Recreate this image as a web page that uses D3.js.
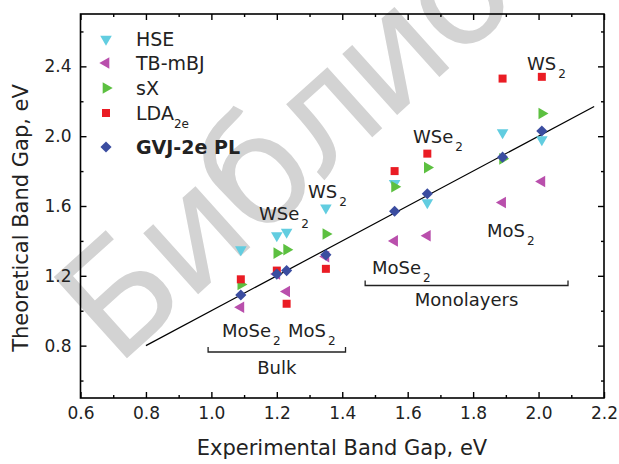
<!DOCTYPE html>
<html>
<head>
<meta charset="utf-8">
<script src="https://cdn.jsdelivr.net/npm/d3@7"></script>
<style>
  body { margin: 0; background: #fff; }
  text { font-family: "DejaVu Sans", Verdana, sans-serif; }
</style>
</head>
<body>
<svg id="chart" width="619" height="464"></svg>
<script>
// experimental gaps: bulk MoSe2, WSe2, MoS2, WS2 then monolayers MoSe2, WSe2, MoS2, WS2
const expGap = [1.09, 1.2, 1.23, 1.35, 1.56, 1.66, 1.89, 2.01];
const hse = [1.35, 1.43, 1.45, 1.59, 1.73, 1.62, 2.02, 1.98];
const tbmbj = [1.02, 1.21, 1.11, 1.31, 1.4, 1.43, 1.62, 1.74];
const sx = [1.15, 1.33, 1.35, 1.44, 1.71, 1.82, 1.87, 2.13];
const lda = [1.18, 1.23, 1.04, 1.24, 1.8, 1.9, 2.33, 2.34];
const gvj = [1.09, 1.21, 1.23, 1.32, 1.57, 1.67, 1.88, 2.03];

const seriesNames = ["HSE", "TB-mBJ", "sX", "LDA", "GVJ-2e PL"];
const seriesValues = [hse, tbmbj, sx, lda, gvj];
const seriesColors = ["#62cde0", "#b94fac", "#5cc040", "#ea1c24", "#3b4da0"];

const xTicks = [0.6, 0.8, 1.0, 1.2, 1.4, 1.6, 1.8, 2.0, 2.2];
const yTicks = [0.8, 1.2, 1.6, 2.0, 2.4];
const fitLine = [0.8, 2.17];

const svg = d3.select("#chart");

const x = d3.scaleLinear().domain([0.6, 2.2]).range([80.5, 604]);
const y = d3.scaleLinear().domain([0.5, 2.7]).range([398, 14]);

// watermark
svg.append("text")
  .attr("transform", "translate(116,368) rotate(-42)")
  .attr("font-size", 150)
  .attr("letter-spacing", -6)
  .attr("fill", "#d3d3d3")
  .text("Библио");

// frame
svg.append("rect")
  .attr("x", x(0.6)).attr("y", y(2.7))
  .attr("width", x(2.2) - x(0.6)).attr("height", y(0.5) - y(2.7))
  .attr("fill", "none").attr("stroke", "#000").attr("stroke-width", 1.6);

const fmt = d3.format(".1f");
const xMinor = d3.range(0.7, 2.2, 0.2);
const yMinor = d3.range(0.6, 2.7, 0.4);

const axes = [
  [d3.axisBottom(x).tickValues(xTicks).tickFormat(fmt), y(0.5), 6],
  [d3.axisBottom(x).tickValues(xMinor).tickFormat(""), y(0.5), 3],
  [d3.axisTop(x).tickValues(xTicks).tickFormat(""), y(2.7), 6],
  [d3.axisTop(x).tickValues(xMinor).tickFormat(""), y(2.7), 3]
];
axes.forEach(([ax, ty, len]) => {
  const g = svg.append("g").attr("transform", `translate(0,${ty})`)
    .call(ax.tickSizeInner(-len).tickSizeOuter(0).tickPadding(9));
  g.select(".domain").remove();
  g.selectAll("line").attr("stroke-width", 1.4);
  g.selectAll("text").attr("font-size", 17).attr("fill", "#222");
});
const yAxes = [
  [d3.axisLeft(y).tickValues(yTicks).tickFormat(fmt), x(0.6), 6],
  [d3.axisLeft(y).tickValues(yMinor).tickFormat(""), x(0.6), 3],
  [d3.axisRight(y).tickValues(yTicks).tickFormat(""), x(2.2), 6],
  [d3.axisRight(y).tickValues(yMinor).tickFormat(""), x(2.2), 3]
];
yAxes.forEach(([ax, tx, len]) => {
  const g = svg.append("g").attr("transform", `translate(${tx},0)`)
    .call(ax.tickSizeInner(-len).tickSizeOuter(0).tickPadding(9));
  g.select(".domain").remove();
  g.selectAll("line").attr("stroke-width", 1.4);
  g.selectAll("text").attr("font-size", 17).attr("fill", "#222");
});

// axis titles
svg.append("text")
  .attr("x", 342).attr("y", 455)
  .attr("text-anchor", "middle").attr("font-size", 21).attr("fill", "#222")
  .text("Experimental Band Gap, eV");
svg.append("text")
  .attr("transform", "translate(28,218) rotate(-90)")
  .attr("text-anchor", "middle").attr("font-size", 21).attr("fill", "#222")
  .text("Theoretical Band Gap, eV");

// y = x guide
svg.append("line")
  .attr("x1", x(fitLine[0])).attr("y1", y(fitLine[0]))
  .attr("x2", x(fitLine[1])).attr("y2", y(fitLine[1]))
  .attr("stroke", "#000").attr("stroke-width", 1.2);

// markers
const tri = d3.symbol().type(d3.symbolTriangle).size(58)();
const sq = d3.symbol().type(d3.symbolSquare).size(64)();
const dia = d3.symbol().type(d3.symbolSquare).size(62)();
const shapes = [
  [tri, 180], [tri, -90], [tri, 90], [sq, 0], [dia, 45]
];

const marker = (sel, i) => sel
  .attr("d", shapes[i][0])
  .attr("fill", seriesColors[i]);

seriesValues.forEach((vals, i) => {
  svg.append("g").selectAll("path")
    .data(vals)
    .join("path")
    .call(marker, i)
    .attr("transform", (d, j) => `translate(${x(expGap[j])},${y(d)}) rotate(${shapes[i][1]})`);
});

// legend
const legendY = [39, 63, 88, 113, 147];
seriesNames.forEach((name, i) => {
  svg.append("path")
    .call(marker, i)
    .attr("transform", `translate(106,${legendY[i]}) rotate(${shapes[i][1]})`);
  const t = svg.append("text")
    .attr("x", 136).attr("y", legendY[i] + 7)
    .attr("font-size", 19).attr("fill", "#222");
  if (i === 4) t.attr("font-weight", "bold");
  t.append("tspan").text(name);
  if (i === 3) t.append("tspan").attr("font-size", 12).attr("dy", 8).text("2e");
});

// material labels with subscript 2
const labels = [
  ["WS", 308, 198], ["WSe", 259, 220], ["MoSe", 222, 337], ["MoS", 288, 337],
  ["WS", 527, 70], ["WSe", 413, 143], ["MoS", 487, 237], ["MoSe", 372, 274]
];
labels.forEach(([txt, lx, ly]) => {
  const t = svg.append("text").attr("x", lx).attr("y", ly)
    .attr("font-size", 18).attr("fill", "#222");
  t.append("tspan").text(txt);
  t.append("tspan").attr("font-size", 12).attr("dy", 8).attr("dx", 2).text("2");
});

// brackets
const brackets = [
  ["Bulk", 0.99, 1.41, 352, 374],
  ["Monolayers", 1.47, 2.09, 285.5, 306]
];
brackets.forEach(([name, a, b, by, ty]) => {
  svg.append("path")
    .attr("d", `M${x(a)},${by - 5}V${by}H${x(b)}V${by - 5}`)
    .attr("fill", "none").attr("stroke", "#222").attr("stroke-width", 1.3);
  svg.append("text")
    .attr("x", (x(a) + x(b)) / 2).attr("y", ty)
    .attr("text-anchor", "middle").attr("font-size", 18).attr("fill", "#222")
    .text(name);
});
</script>
</body>
</html>
